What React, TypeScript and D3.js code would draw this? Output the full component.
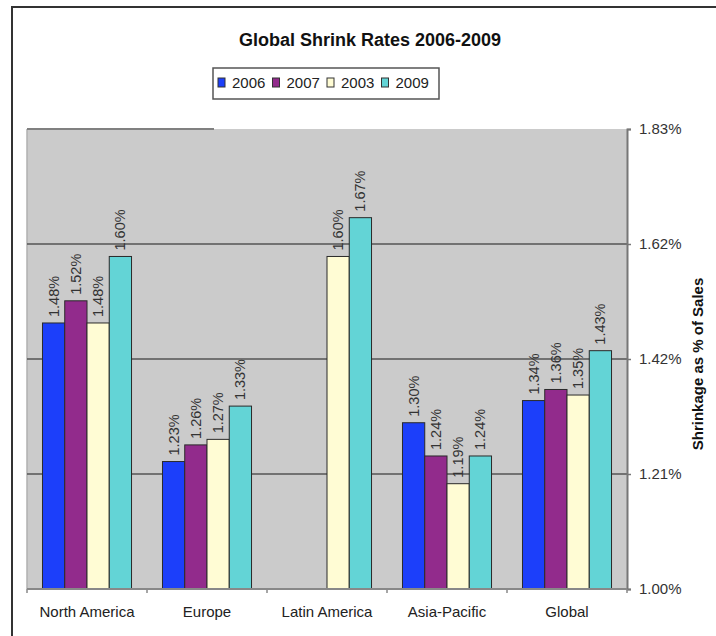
import React, { useEffect, useRef } from 'react';
import * as d3 from 'd3';

const regions = ['North America', 'Europe', 'Latin America', 'Asia-Pacific', 'Global'];
const seriesNames = ['2006', '2007', '2003', '2009'];
const values2006 = [1.48, 1.23, null, 1.30, 1.34];
const values2007 = [1.52, 1.26, null, 1.24, 1.36];
const values2003 = [1.48, 1.27, 1.60, 1.19, 1.35];
const values2009 = [1.60, 1.33, 1.67, 1.24, 1.43];
const tickValues = [1.0, 1.2075, 1.415, 1.6225, 1.83];
const tickLabels = ['1.00%', '1.21%', '1.42%', '1.62%', '1.83%'];

const colors = ['#1c3ffa', '#922b8c', '#fffcd4', '#63d4d6'];
const FONT = 'Arial, "Liberation Sans", sans-serif';

const App: React.FC = () => {
  const svgRef = useRef<SVGSVGElement>(null);
  const width = 716;
  const height = 636;
  const plot = { left: 27, right: 627, top: 129, bottom: 589 };

  useEffect(() => {
    if (!svgRef.current) return;
    const svg = d3.select(svgRef.current);
    svg.selectAll('*').remove();

    svg.append('rect').attr('width', width).attr('height', height).attr('fill', 'white');

    // outer frame (left + top only visible)
    svg.append('path')
      .attr('d', `M12,${height} L12,7 L${width},7`)
      .attr('fill', 'none')
      .attr('stroke', '#333')
      .attr('stroke-width', 2);

    // title
    svg.append('text')
      .attr('x', 370)
      .attr('y', 46)
      .attr('text-anchor', 'middle')
      .style('font-family', FONT)
      .style('font-size', '18px')
      .style('font-weight', 'bold')
      .attr('fill', '#111')
      .text('Global Shrink Rates 2006-2009');

    // legend
    const legend = svg.append('g');
    legend.append('rect')
      .attr('x', 213).attr('y', 68).attr('width', 226).attr('height', 31)
      .attr('fill', 'white').attr('stroke', '#555').attr('stroke-width', 1.5);
    seriesNames.forEach((name, i) => {
      const x0 = 218 + i * 54.5;
      legend.append('rect')
        .attr('x', x0).attr('y', 78).attr('width', 7).attr('height', 9)
        .attr('fill', colors[i]).attr('stroke', '#333').attr('stroke-width', 1);
      legend.append('text')
        .attr('x', x0 + 14).attr('y', 88)
        .style('font-family', FONT).style('font-size', '15px')
        .attr('fill', '#222')
        .text(name);
    });

    const x = d3.scaleBand<string>()
      .domain(regions)
      .range([plot.left, plot.right])
      .paddingInner(0.258)
      .paddingOuter(0.129);
    const xInner = d3.scaleBand<string>()
      .domain(seriesNames)
      .range([0, x.bandwidth()]);
    const y = d3.scaleLinear()
      .domain([1.0, 1.83])
      .range([plot.bottom, plot.top]);

    // plot background
    svg.append('rect')
      .attr('x', plot.left).attr('y', plot.top)
      .attr('width', plot.right - plot.left).attr('height', plot.bottom - plot.top)
      .attr('fill', '#cbcbcb');
    svg.append('line')
      .attr('x1', plot.left).attr('x2', plot.left)
      .attr('y1', plot.top).attr('y2', plot.bottom)
      .attr('stroke', '#b0b0b0').attr('stroke-width', 1.5);
    svg.append('line')
      .attr('x1', plot.left).attr('x2', 214)
      .attr('y1', plot.top).attr('y2', plot.top)
      .attr('stroke', '#808080').attr('stroke-width', 2);

    // grid lines
    svg.append('g')
      .selectAll('line')
      .data(tickValues.slice(1, -1))
      .join('line')
      .attr('x1', plot.left).attr('x2', plot.right)
      .attr('y1', d => y(d)).attr('y2', d => y(d))
      .attr('stroke', '#555').attr('stroke-width', 1.5);

    // bars
    const allSeries = [values2006, values2007, values2003, values2009];
    allSeries.forEach((vals, si) => {
      const name = seriesNames[si];
      const pts = regions
        .map((r, i) => ({ region: r, value: vals[i] }))
        .filter(d => d.value !== null) as { region: string; value: number }[];
      const g = svg.append('g');
      g.selectAll('rect')
        .data(pts)
        .join('rect')
        .attr('x', d => (x(d.region) as number) + (xInner(name) as number))
        .attr('y', d => y(d.value))
        .attr('width', xInner.bandwidth())
        .attr('height', d => plot.bottom - y(d.value))
        .attr('fill', colors[si])
        .attr('stroke', '#2a2a2a')
        .attr('stroke-width', 1);
      g.selectAll('text')
        .data(pts)
        .join('text')
        .attr('transform', d => {
          const cx = (x(d.region) as number) + (xInner(name) as number) + xInner.bandwidth() / 2 + 5;
          return `translate(${cx},${y(d.value) - 6}) rotate(-90)`;
        })
        .style('font-family', FONT)
        .style('font-size', '14.5px')
        .attr('fill', '#333')
        .text(d => `${d.value.toFixed(2)}%`);
    });

    // right axis
    const yAxis = svg.append('g')
      .attr('transform', `translate(${plot.right},0)`)
      .call(d3.axisRight(y).tickValues(tickValues).tickSize(4).tickPadding(8)
        .tickFormat((_, i) => tickLabels[i]));
    yAxis.select('.domain').attr('stroke', '#777').attr('stroke-width', 2);
    yAxis.selectAll('.tick line').attr('stroke', '#777').attr('stroke-width', 1.5);
    yAxis.selectAll('text')
      .style('font-family', FONT).style('font-size', '15px').attr('fill', '#333');

    // bottom axis
    const boundaries = regions.map(r => (x(r) as number) - x.step() * 0.129).concat([plot.right]);
    const xAxis = svg.append('g');
    xAxis.append('line')
      .attr('x1', plot.left).attr('x2', plot.right)
      .attr('y1', plot.bottom).attr('y2', plot.bottom)
      .attr('stroke', '#888').attr('stroke-width', 2);
    xAxis.selectAll('.tickmark')
      .data(boundaries)
      .join('line')
      .attr('class', 'tickmark')
      .attr('x1', d => d).attr('x2', d => d)
      .attr('y1', plot.bottom).attr('y2', plot.bottom + 4)
      .attr('stroke', '#888').attr('stroke-width', 1.5);
    xAxis.selectAll('.cat')
      .data(regions)
      .join('text')
      .attr('class', 'cat')
      .attr('x', d => (x(d) as number) + x.bandwidth() / 2)
      .attr('y', 617)
      .attr('text-anchor', 'middle')
      .style('font-family', FONT).style('font-size', '15px')
      .attr('fill', '#222')
      .text(d => d);

    // axis title
    svg.append('text')
      .attr('transform', `translate(703,364) rotate(-90)`)
      .attr('text-anchor', 'middle')
      .style('font-family', FONT).style('font-size', '15px').style('font-weight', 'bold')
      .attr('fill', '#111')
      .text('Shrinkage as % of Sales');
  }, []);

  return (
    <svg
      ref={svgRef}
      width={width}
      height={height}
      style={{ position: 'absolute', left: 0, top: 0, display: 'block' }}
    />
  );
};

export default App;
